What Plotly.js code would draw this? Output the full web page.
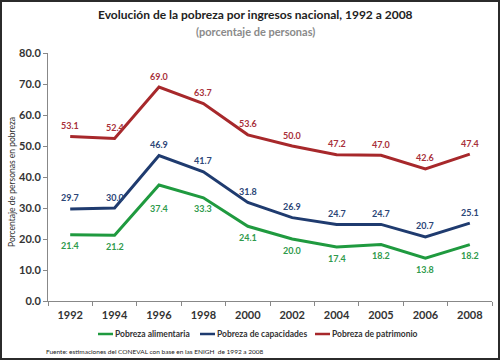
<!DOCTYPE html>
<html><head><meta charset="utf-8">
<script src="https://cdn.plot.ly/plotly-3.0.1.min.js"></script>
<style>
body{margin:0;padding:0;background:#fff;}
#wrap{position:relative;width:500px;height:360px;}
#chart{width:500px;height:360px;}
#frame{position:absolute;left:0;top:0;width:500px;height:360px;box-sizing:border-box;border:2px solid #2b2b2b;pointer-events:none;}
</style>
</head><body>
<div id="wrap"><div id="chart"></div><div id="frame"></div></div>
<script>
const years = ["1992","1994","1996","1998","2000","2002","2004","2005","2006","2008"];
const alimentaria = [21.4,21.2,37.4,33.3,24.1,20.0,17.4,18.2,13.8,18.2];
const capacidades = [29.7,30.0,46.9,41.7,31.8,26.9,24.7,24.7,20.7,25.1];
const patrimonio  = [53.1,52.4,69.0,63.7,53.6,50.0,47.2,47.0,42.6,47.4];
const names = ["Pobreza alimentaria","Pobreza de capacidades","Pobreza de patrimonio"];
const yTicks = [0,10,20,30,40,50,60,70,80];

const FONT = "Lato, 'Open Sans', sans-serif";
const PX0 = 48, PW = 444, PY0 = 301, PH = 248;
const px = v => (v - PX0) / PW;
const py = v => (PY0 - v) / PH;

const series = [
  {y: alimentaria, name: names[0], color:'#1f9a3f', tcolor:'#2f9a4c', shift:-11},
  {y: capacidades, name: names[1], color:'#1f3b6f', tcolor:'#2c4677', shift:11},
  {y: patrimonio,  name: names[2], color:'#a7282b', tcolor:'#a8303a', shift:11}
];
const data = series.map(s => ({x: years, y: s.y, name: s.name, type:'scatter', mode:'lines',
  line:{color:s.color, width:3}, hoverinfo:'skip', showlegend:false}));

const annotations = [];
series.forEach((s, si) => {
  s.y.forEach((v, i) => {
    let sh = s.shift;
    if (si === 0 && years[i] === "1996") sh = -23;
    annotations.push({x: i, y: v, xref:'x', yref:'y', text: v.toFixed(1), showarrow:false,
      yshift: sh, xanchor:'center', yanchor:'middle',
      font:{family:FONT, size:9, color:s.tcolor, weight:'bold'}});
  });
});
annotations.push(
  {xref:'paper', yref:'paper', x:px(255), y:py(15), xanchor:'center', yanchor:'middle', showarrow:false,
   text:'<b>Evolución de la pobreza por ingresos nacional, 1992 a 2008</b>', font:{family:FONT, size:12, color:'#222'}},
  {xref:'paper', yref:'paper', x:px(255), y:py(31), xanchor:'center', yanchor:'middle', showarrow:false,
   text:'<b>(porcentaje de personas)</b>', font:{family:FONT, size:11, color:'#8a8a8a'}},
  {xref:'paper', yref:'paper', x:px(12), y:py(182), xanchor:'center', yanchor:'middle', showarrow:false, textangle:-90,
   text:'Porcentaje de personas en pobreza', font:{family:FONT, size:8.5, color:'#333'}},
  {xref:'paper', yref:'paper', x:px(44), y:py(351), xanchor:'left', yanchor:'middle', showarrow:false,
   text:'Fuente: estimaciones del CONEVAL con base en las ENIGH  de 1992 a 2008', font:{family:FONT, size:6.5, color:'#222'}}
);
// manual legend
const legX = [98, 200, 315];
const shapes = [];
series.forEach((s, i) => {
  shapes.push({type:'line', xref:'paper', yref:'paper', x0:px(legX[i]), x1:px(legX[i]+15), y0:py(334), y1:py(334),
    line:{color:s.color, width:2.5}});
  annotations.push({xref:'paper', yref:'paper', x:px(legX[i]+15), y:py(334), xanchor:'left', yanchor:'middle',
    showarrow:false, text:'<b>'+s.name+'</b>', font:{family:FONT, size:8.5, color:'#333'}});
});

const layout = {
  width:500, height:360,
  margin:{l:48, r:8, t:53, b:59},
  paper_bgcolor:'#ffffff', plot_bgcolor:'#ffffff',
  font:{family:FONT, color:'#333'},
  showlegend:false,
  xaxis:{type:'category', range:[-0.5, years.length-0.5], autorange:false, tickson:'boundaries', ticks:'outside', ticklen:4, tickcolor:'#888',
    showline:true, linecolor:'#888', linewidth:1, showgrid:false, zeroline:false, ticklabelstandoff:4,
    tickfont:{family:FONT, size:11, color:'#333', weight:'bold'}, fixedrange:true},
  yaxis:{range:[0,80], autorange:false, tickvals:yTicks, tickformat:'.1f', ticks:'outside', ticklen:4, tickcolor:'#888',
    showline:true, linecolor:'#888', linewidth:1, showgrid:false, zeroline:false,
    tickfont:{family:FONT, size:11, color:'#333', weight:'bold'}},
  annotations: annotations,
  shapes: shapes
};
Plotly.newPlot('chart', data, layout, {staticPlot:true, displayModeBar:false});
</script>
</body></html>
